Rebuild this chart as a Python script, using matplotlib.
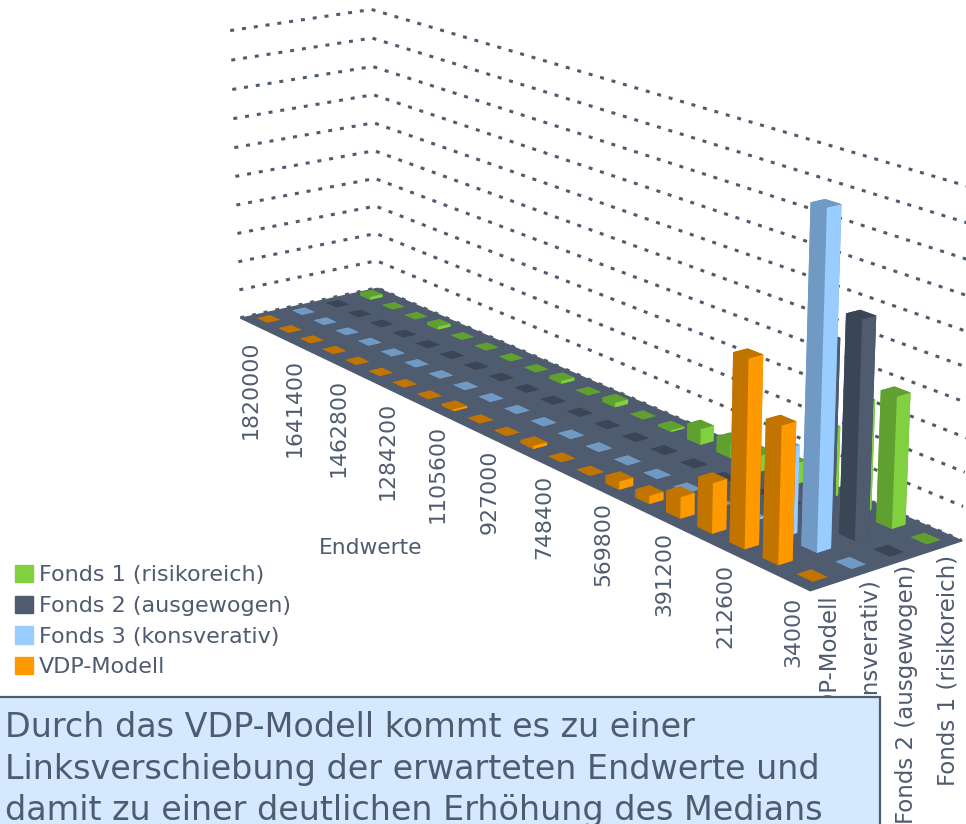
import matplotlib
matplotlib.use("Agg")
from matplotlib import pyplot as plt
from matplotlib.patches import Patch, Rectangle
from mpl_toolkits.mplot3d.art3d import Poly3DCollection

W, H = 966, 824
INK = "#4f5b6f"

endwerte = ["1820000", "1641400", "1462800", "1284200", "1105600", "927000",
            "748400", "569800", "391200", "212600", "34000"]
series = ["VDP-Modell", "Fonds 3 (konsverativ)", "Fonds 2 (ausgewogen)", "Fonds 1 (risikoreich)"]

# far end of the axis first
vdp = [0, 0, 0, 0, 0, 0, 0, 0, 0.6, 0, 0, 1, 0, 0, 2.5, 2.5, 6.5, 15, 55, 40, 0]
fonds3 = [0, 0, 0, 0, 0, 0, 0, 0, 0, 0, 0, 0, 0, 0, 0, 0, 0, 0.5, 26, 97.5, 0]
fonds2 = [0, 0, 0, 0, 0, 0, 0, 0, 0, 0, 0, 0, 0, 0, 0, 0, 0, 1, 54, 64, 0]
fonds1 = [1, 0, 0, 1, 0, 0, 0, 0, 1, 0, 1.5, 0, 0.6, 5, 5, 5, 6.5, 21, 33, 39, 0]
rows = [vdp, fonds3, fonds2, fonds1]

bright = ["#ff9900", "#99ccff", "#4f5b6f", "#80d040"]
dark = ["#c27400", "#7099c4", "#3a4555", "#60a030"]

fig = plt.figure(figsize=(W / 100, H / 100), dpi=100)
ax = fig.add_axes([0, 0, 1, 1], projection="3d", computed_zorder=False)
ax.set_xlim(0, 21)
ax.set_ylim(0, 4)
ax.set_zlim(0, 100)

# view fitted against the floor corners and the gridline ends
k, ox, oy = 5387.03, 561.81, 261.68
ax.view_init(elev=17.012, azim=-37.271)
ax.set_proj_type("persp", focal_length=0.5203)
ax.set_box_aspect((5.7777, 1.1192, 2.0))
ax.set_position([(ox - 0.095 * k) / W, 1 - (oy + 0.095 * k) / H, 0.185 * k / W, 0.185 * k / H])
ax.set_axis_off()
ax.patch.set_alpha(0)

for z in range(0, 101, 10):
    ax.plot([0, 0, 21], [0, 4, 4], [z, z, z], color=INK, lw=2.2, ls=(0, (1.3, 2.6)), zorder=1)

floor = [[(0, 0, 0), (21, 0, 0), (21, 4, 0), (0, 4, 0)]]
ax.add_collection3d(Poly3DCollection(floor, facecolor=INK, edgecolor=INK, zorder=2))

dx, dy = 0.46, 0.37
for i in range(21):
    for r in range(3, -1, -1):
        faces = [dark[r], dark[r], dark[r], dark[r], dark[r], bright[r]]
        ax.bar3d(i + 0.5 - dx / 2, r + 0.5 - dy / 2, 0, dx, dy, rows[r][i],
                 color=faces, shade=False, linewidth=0, zorder=10 + i * 10 + (3 - r))


def px_text(x, y, s, **kw):
    fig.text(x / W, 1 - y / H, s, color=INK, **kw)


label_x = [251, 295, 339, 388, 438, 490, 544, 603, 664, 725, 793]
label_y = [340, 359, 379, 402, 425, 450, 475, 502, 532, 564, 597]
for s, x, y in zip(endwerte, label_x, label_y):
    px_text(x, y, s, rotation=90, ha="center", va="top", fontsize=15.8)
px_text(371, 548, "Endwerte", ha="center", va="center", fontsize=15.7)

for s, x, y in zip(series, [830, 871, 907, 948], [595, 580, 565, 555]):
    px_text(x, y, s, rotation=90, ha="center", va="top", fontsize=16.5)

handles = [Patch(color=bright[r]) for r in (3, 2, 1, 0)]
labels = [series[r] for r in (3, 2, 1, 0)]
fig.legend(handles, labels, loc="upper left", bbox_to_anchor=(15 / W, 1 - 565 / H),
           borderaxespad=0, borderpad=0, frameon=False, fontsize=16, labelcolor=INK,
           handlelength=0.81, handleheight=0.81, handletextpad=0.25, labelspacing=0.47)

fig.add_artist(Rectangle((-5 / W, -0.02), 885 / W, 1 - 697 / H + 0.02, transform=fig.transFigure,
                         facecolor="#d4e9fd", edgecolor=INK, linewidth=1.6, zorder=5))
note = ["Durch das VDP-Modell kommt es zu einer",
        "Linksverschiebung der erwarteten Endwerte und",
        "damit zu einer deutlichen Erhöhung des Medians"]
for s, y in zip(note, [737, 779, 820]):
    px_text(5, y, s, ha="left", va="baseline", fontsize=24, zorder=6)

plt.savefig("out.png", dpi=100)
